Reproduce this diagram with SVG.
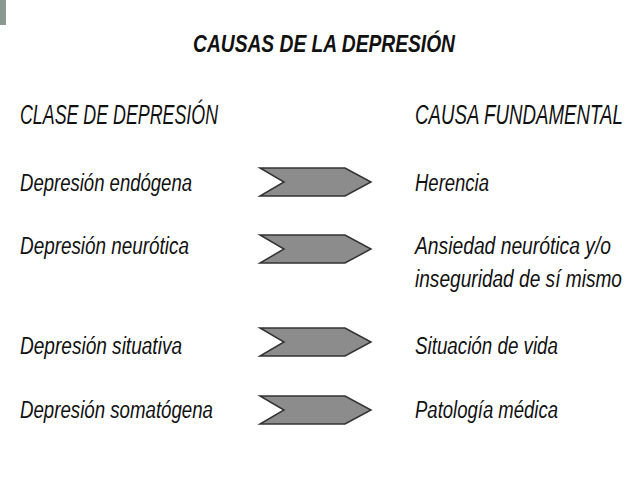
<svg xmlns="http://www.w3.org/2000/svg" width="638" height="479" viewBox="0 0 638 479">
<defs><style>
text{font-family:"Liberation Sans",Arial,sans-serif;font-style:italic;fill:#111}
.h{font-size:27px}.t{font-size:23px}.ti{font-size:24px;font-weight:bold}
.chev{fill:#8c8c8c;stroke:#333;stroke-width:1.5}
</style>
<path id="ch" class="chev" d="M0,0 H85 L111,14 L85,28 H0 L24,14 Z"/>
</defs>
<rect width="638" height="479" fill="#fff"/>
<rect x="0" y="0" width="6" height="25" fill="#8a9a90"/>
<text class="ti" x="193" y="52" textLength="262" lengthAdjust="spacingAndGlyphs">CAUSAS DE LA DEPRESIÓN</text>
<g id="headers">
<text class="h" x="20" y="124" textLength="198" lengthAdjust="spacingAndGlyphs">CLASE DE DEPRESIÓN</text>
<text class="h" x="415" y="124" textLength="208" lengthAdjust="spacingAndGlyphs">CAUSA FUNDAMENTAL</text>
</g>
<g id="row1"><text class="t" x="20" y="191" textLength="172" lengthAdjust="spacingAndGlyphs">Depresión endógena</text>
<text class="t" x="415" y="191" textLength="74" lengthAdjust="spacingAndGlyphs">Herencia</text></g>
<g id="row2"><text class="t" x="20" y="254" textLength="169" lengthAdjust="spacingAndGlyphs">Depresión neurótica</text>
<text class="t" x="415" y="254" textLength="196" lengthAdjust="spacingAndGlyphs">Ansiedad neurótica y/o</text>
<text class="t" x="415" y="287" textLength="207" lengthAdjust="spacingAndGlyphs">inseguridad de sí mismo</text></g>
<g id="row3"><text class="t" x="20" y="354" textLength="162" lengthAdjust="spacingAndGlyphs">Depresión situativa</text>
<text class="t" x="415" y="354" textLength="143" lengthAdjust="spacingAndGlyphs">Situación de vida</text></g>
<g id="row4"><text class="t" x="20" y="418" textLength="193" lengthAdjust="spacingAndGlyphs">Depresión somatógena</text>
<text class="t" x="415" y="418" textLength="143" lengthAdjust="spacingAndGlyphs">Patología médica</text></g>
<g id="connectors">
<use href="#ch" x="260" y="168"/>
<use href="#ch" x="260" y="235"/>
<use href="#ch" x="260" y="328"/>
<use href="#ch" x="260" y="396"/>
</g>
</svg>
